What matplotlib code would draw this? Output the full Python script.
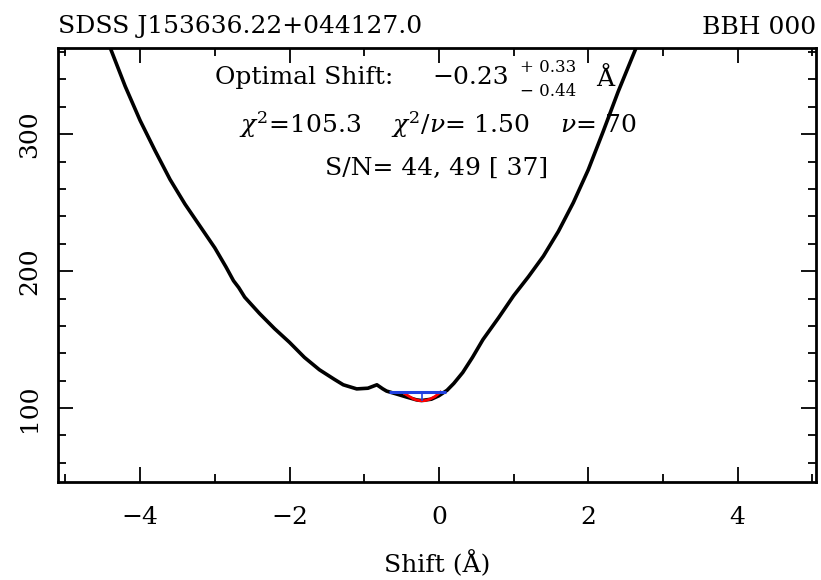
import numpy as np
import matplotlib
matplotlib.use("Agg")
import matplotlib.pyplot as plt
from matplotlib.ticker import MultipleLocator

plt.rcParams['font.family'] = ['DejaVu Serif']
plt.rcParams['mathtext.fontset'] = 'dejavuserif'

# chi^2 vs shift curve
shift = [-4.40, -4.2, -4.0, -3.8, -3.6, -3.4, -3.2, -3.0, -2.85, -2.75, -2.68, -2.6,
         -2.4, -2.2, -2.0, -1.8, -1.6, -1.4, -1.28, -1.1, -0.95, -0.83, -0.75, -0.70,
         -0.55, -0.43, -0.3, -0.23, -0.1, 0.0, 0.11, 0.2, 0.32, 0.45, 0.59, 0.8, 1.0,
         1.2, 1.4, 1.6, 1.8, 2.0, 2.2, 2.4, 2.64]
chi2 = [363, 335, 310, 288, 267, 249, 233, 217, 203, 193, 188, 181,
        169, 158, 148, 137, 128, 121, 117, 114, 114.5, 117, 114, 112.4,
        110, 108, 106, 105.5, 106.5, 109, 113, 118, 126, 137, 150, 166, 182,
        196, 211, 229, 250, 274, 302, 331, 363]

best_shift = -0.23
err_plus = 0.33
err_minus = 0.44
chi2_min = 105.3
chi2_err_level = 112.0
# red parabola fitted around the minimum
par_x = [-0.47, -0.40, -0.33, -0.26, -0.19, -0.12, -0.05, 0.02]
par_y = [111.0, 108.6, 106.4, 105.4, 105.4, 106.5, 108.5, 111.6]

title_left = "SDSS J153636.22+044127.0"
title_right = "BBH 000"

W, H = 821, 580
fig = plt.figure(figsize=(W / 100, H / 100), dpi=100)
ax = fig.add_axes([58/W, 1-482/H, (816-58)/W, (482-48)/H])

ax.plot(shift, chi2, color='black', lw=2.6, solid_joinstyle='round')
ax.plot(par_x, par_y, color='red', lw=2.0)
ax.hlines(chi2_err_level, best_shift - err_minus, best_shift + err_plus, color='#2040e0', lw=2.2)
ax.vlines(best_shift, chi2_min, chi2_err_level, color='#2040e0', lw=1.2)

ax.set_xlim(-5.1, 5.05)
ax.set_ylim(46, 363)
ax.xaxis.set_major_locator(MultipleLocator(2))
ax.xaxis.set_minor_locator(MultipleLocator(1))
ax.yaxis.set_major_locator(MultipleLocator(100))
ax.yaxis.set_minor_locator(MultipleLocator(20))
ax.tick_params(which='both', direction='in', top=True, right=True, width=1.3, labelsize=18)
ax.tick_params(which='major', length=11)
ax.tick_params(which='minor', length=6)
ax.tick_params(axis='x', pad=17)
ax.tick_params(axis='y', pad=12)
for lab in ax.get_yticklabels():
    lab.set_rotation(90)
    lab.set_va('center')
for s in ax.spines.values():
    s.set_linewidth(2.0)

ax.set_xticklabels([f"{v:g}".replace('-', '\u2212') for v in ax.get_xticks()])
ax.set_xlabel("Shift (Å)", fontsize=18, labelpad=16)

fig.text(58/W, 1-27/H, title_left, fontsize=18, ha='left', va='center')
fig.text(816/W, 1-27/H, title_right, fontsize=18, ha='right', va='center')

# first annotation line, built from pieces (value with asymmetric errors)
fig.text(215/W, 1-78/H, "Optimal Shift:", fontsize=18, ha='left', va='center')
fig.text(432/W, 1-78/H, f"\u2212{abs(best_shift):.2f}", fontsize=18, ha='left', va='center')
fig.text(520/W, 1-68/H, f"+ {err_plus:.2f}", fontsize=12, ha='left', va='center')
fig.text(520/W, 1-91/H, f"\u2212 {err_minus:.2f}", fontsize=12, ha='left', va='center')
fig.text(596/W, 1-79/H, "Å", fontsize=18, ha='left', va='center')

fig.text(438/W, 1-125/H,
         r"$\chi^2$=105.3    $\chi^2/\nu$= 1.50    $\nu$= 70",
         fontsize=18, ha='center', va='center')
fig.text(437/W, 1-168/H, "S/N= 44, 49 [ 37]",
         fontsize=18, ha='center', va='center')

fig.savefig("out.png", dpi=100)
